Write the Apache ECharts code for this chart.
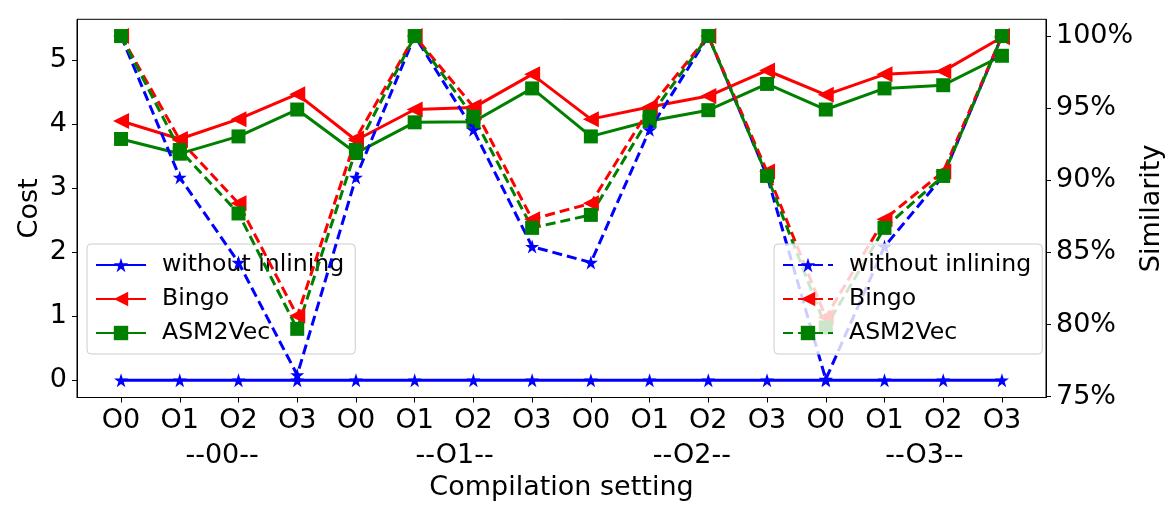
<!DOCTYPE html>
<html>
<head>
<meta charset="utf-8">
<script src="https://cdn.jsdelivr.net/npm/echarts@6/dist/echarts.min.js"></script>
<style>
  html, body { margin: 0; padding: 0; background: #fff; }
  #container { width: 1169px; height: 511px; }
</style>
</head>
<body>
<div id="container"></div>
<script>
// tick labels along x, and the group labels below them
const xLabels = ['O0', 'O1', 'O2', 'O3', 'O0', 'O1', 'O2', 'O3', 'O0', 'O1', 'O2', 'O3', 'O0', 'O1', 'O2', 'O3'];
const groupLabels = ['--00--', '--O1--', '--O2--', '--O3--'];
const groupPos = [1.72, 5.68, 9.72, 13.68];

const names = ['without inlining', 'Bingo', 'ASM2Vec'];
const colors = ['#0000ff', '#ff0000', '#008000'];

// Cost (left axis, solid lines)
const costWithout = [0, 0, 0, 0, 0, 0, 0, 0, 0, 0, 0, 0, 0, 0, 0, 0];
const costBingo = [4.05, 3.77, 4.08, 4.47, 3.75, 4.23, 4.26, 4.78, 4.08, 4.27, 4.44, 4.84, 4.46, 4.78, 4.83, 5.36];
const costAsm = [3.77, 3.54, 3.81, 4.23, 3.55, 4.03, 4.04, 4.56, 3.81, 4.05, 4.22, 4.63, 4.23, 4.56, 4.61, 5.07];

// Similarity in % (right axis, dashed lines)
const simWithout = [100, 90.2, 84.3, 76.5, 90.2, 100, 93.5, 85.4, 84.3, 93.5, 100, 90.3, 76.2, 85.4, 90.3, 100];
const simBingo = [100, 92.8, 88.4, 80.6, 92.9, 100, 95.1, 87.3, 88.4, 95.0, 100, 90.6, 80.5, 87.3, 90.6, 100];
const simAsm = [100, 92.1, 87.7, 79.7, 92.1, 100, 94.4, 86.7, 87.6, 94.4, 100, 90.3, 79.8, 86.7, 90.3, 100];

const costTicks = [0, 1, 2, 3, 4, 5];
const simTicks = [75, 80, 85, 90, 95, 100];

const starPath = 'path://M0,-10L2.245,-3.09L9.511,-3.09L3.633,1.18L5.878,8.09L0,3.82L-5.878,8.09L-3.633,1.18L-9.511,-3.09L-2.245,-3.09Z';
const symbols = [starPath, 'triangle', 'rect'];
const symbolSizes = [14, 16, 14];
const symbolRotates = [0, 90, 0];

const FONT = 'DejaVu Sans';
const pairs = arr => arr.map((v, i) => [i, v]);

function lineSeries(idx, data, dashed) {
  return {
    name: dashed ? names[idx] + ' (sim)' : names[idx],
    type: 'line',
    yAxisIndex: dashed ? 1 : 0,
    data: pairs(data),
    symbol: symbols[idx],
    symbolSize: symbolSizes[idx],
    symbolRotate: symbolRotates[idx],
    showAllSymbol: true,
    z: dashed ? 5 : 2,
    lineStyle: { color: colors[idx], width: 3, type: dashed ? [10, 5] : 'solid' },
    itemStyle: { color: colors[idx] }
  };
}

const legendBase = {
  orient: 'vertical',
  top: 244,
  itemWidth: 50,
  itemHeight: 18,
  itemGap: 10,
  padding: [9, 11, 9, 8],
  backgroundColor: 'rgba(255,255,255,0.8)',
  borderColor: '#cccccc',
  borderWidth: 1,
  borderRadius: 4,
  textStyle: { fontFamily: FONT, fontSize: 23.6, color: '#000', lineHeight: 24, padding: [0, 0, 0, 11] }
};

const axisLineStyle = { show: true, onZero: false, lineStyle: { color: '#000', width: 1 } };

const myChart = echarts.init(document.getElementById('container'));
const option = {
  animation: false,
  grid: {
    left: 77,
    right: 123,
    top: 19.3,
    bottom: 113.5,
    show: true,
    borderColor: '#000',
    borderWidth: 1,
    outerBoundsMode: 'none'
  },
  legend: [
    Object.assign({}, legendBase, { left: 87, z: 4, data: names }),
    Object.assign({}, legendBase, {
      left: 774,
      z: 6,
      data: names.map(n => n + ' (sim)'),
      formatter: n => n.replace(' (sim)', '')
    })
  ],
  xAxis: [
    {
      type: 'value',
      min: -0.75,
      max: 15.75,
      name: 'Compilation setting',
      nameLocation: 'middle',
      nameGap: 77,
      nameMoveOverlap: false,
      nameTextStyle: { fontFamily: FONT, fontSize: 27, color: '#000' },
      axisLine: axisLineStyle,
      axisTick: { show: true, length: 5, lineStyle: { color: '#000' }, customValues: xLabels.map((_, i) => i) },
      axisLabel: {
        fontFamily: FONT, fontSize: 27, color: '#000', margin: 10,
        customValues: xLabels.map((_, i) => i),
        formatter: v => xLabels[Math.round(v)]
      },
      splitLine: { show: false }
    },
    {
      type: 'value',
      position: 'bottom',
      min: -0.75,
      max: 15.75,
      axisLine: { show: false, onZero: false },
      axisTick: { show: false },
      axisLabel: {
        fontFamily: FONT, fontSize: 27, color: '#000', margin: 45,
        customValues: groupPos,
        formatter: v => groupLabels[groupPos.indexOf(v)]
      },
      splitLine: { show: false }
    }
  ],
  yAxis: [
    {
      type: 'value',
      min: -0.27,
      max: 5.64,
      name: 'Cost',
      nameLocation: 'middle',
      nameGap: 34,
      nameMoveOverlap: false,
      nameTextStyle: { fontFamily: FONT, fontSize: 27, color: '#000' },
      axisLine: axisLineStyle,
      axisTick: { show: true, length: 5, lineStyle: { color: '#000' }, customValues: costTicks },
      axisLabel: { fontFamily: FONT, fontSize: 27, color: '#000', margin: 10, customValues: costTicks },
      splitLine: { show: false }
    },
    {
      type: 'value',
      position: 'right',
      min: 74.94,
      max: 101.16,
      name: 'Similarity',
      nameLocation: 'middle',
      nameGap: 92,
      nameRotate: 90,
      nameMoveOverlap: false,
      nameTextStyle: { fontFamily: FONT, fontSize: 27, color: '#000' },
      axisLine: axisLineStyle,
      axisTick: { show: true, length: 5, lineStyle: { color: '#000' }, customValues: simTicks },
      axisLabel: { fontFamily: FONT, fontSize: 27, color: '#000', margin: 10, customValues: simTicks, formatter: '{value}%' },
      splitLine: { show: false }
    }
  ],
  series: [
    lineSeries(0, costWithout, false),
    lineSeries(1, costBingo, false),
    lineSeries(2, costAsm, false),
    lineSeries(0, simWithout, true),
    lineSeries(1, simBingo, true),
    lineSeries(2, simAsm, true)
  ]
};
myChart.setOption(option);
window.addEventListener('resize', () => {
  myChart.resize();
});
</script>
</body>
</html>
